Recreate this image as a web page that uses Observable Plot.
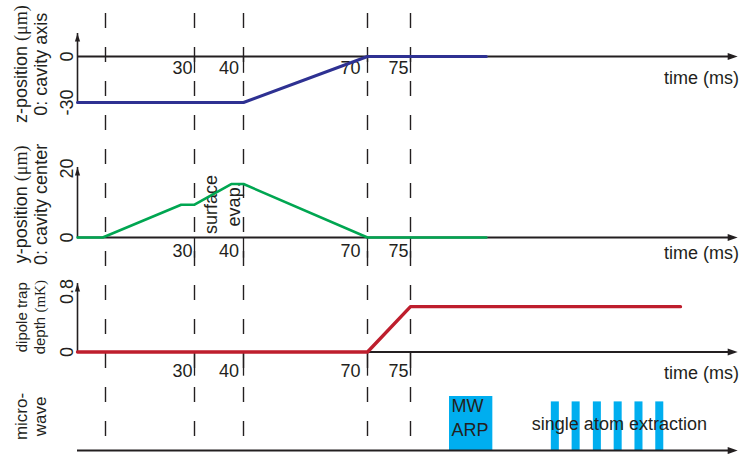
<!DOCTYPE html>
<html>
<head>
<meta charset="utf-8">
<script src="https://cdn.jsdelivr.net/npm/d3@7"></script>
<script src="https://cdn.jsdelivr.net/npm/@observablehq/plot@0.6"></script>
<style>
  html, body { margin: 0; padding: 0; background: #fff; }
  #figure { position: relative; width: 741px; height: 454px; overflow: hidden; }
  #figure svg { position: absolute; left: 0; top: 0; }
</style>
</head>
<body>
<div id="figure"></div>
<script>
// ---- sequence timing (ms) ----
const markerTimes = [10, 30, 40, 70, 75];          // dashed event markers
const tickTimes = [30, 40, 70, 75];                 // labelled ticks
const tickLabels = ["30", "40", "70", "75"];

// schematic (piecewise) time axis: breakpoints in ms and where they sit across the page
const timeBreaks = [0, 10, 30, 40, 70, 75, 150];
const timePixels = [77, 105, 194, 243, 367, 410, 735];
const axisTip = 150.5;

// z-position (µm), 0 = cavity axis
const zTime = [0, 40, 70, 92.5];
const zValue = [-30, -30, 0, 0];

// y-position (µm), 0 = cavity centre
const yTime = [0, 9, 27, 30, 37.5, 40, 70, 92.5];
const yValue = [0, 0, 9.5, 9.5, 15.5, 15.5, 0, 0];

// dipole trap depth (mK)
const trapTime = [0, 70, 75, 137.3];
const trapValue = [0, 0, 0.6, 0.6];

// microwave: MW ARP pulse, then single atom extraction pulses
const arpPulse = {start: 84, end: 94, level: 1};
const extractionStarts = [107.5, 112.3, 117.2, 122.0, 126.8, 131.6];
const extractionWidth = 1.85;
const extractionLevel = 0.9;

// ---- styling ----
const INK = "#231f20";
const BLUE = "#2e3192";
const GREEN = "#00a651";
const RED = "#be1e2d";
const CYAN = "#00aeef";
const FONT = "'Liberation Sans', Arial, Helvetica, sans-serif";
const W = 741, H = 454;

const zip = (xs, ys) => xs.map((t, i) => ({t, v: ys[i]}));

// time is warped piecewise onto the schematic axis before the x scale is applied
const warp = d3.scaleLinear().domain(timeBreaks).range(timePixels);
const xScale = () => ({type: "linear", domain: [0, W], range: [0, W], transform: warp, axis: null});

function render(options) {
  const svg = Plot.plot({
    width: W, height: H,
    marginTop: 0, marginRight: 0, marginBottom: 0, marginLeft: 0,
    x: xScale(),
    style: {background: "transparent", color: INK, fontFamily: FONT, fontSize: "18px", overflow: "visible"},
    ...options
  });
  serifUnits(svg);
  document.getElementById("figure").appendChild(svg);
}

// units in parentheses are set in a serif face
function serifUnits(svg) {
  svg.querySelectorAll("text, tspan").forEach((el) => {
    if (el.children.length) return;
    const m = el.textContent.match(/^(.*?)(\((?:μm|mK)\))$/);
    if (!m) return;
    el.textContent = m[1];
    const unit = document.createElementNS("http://www.w3.org/2000/svg", "tspan");
    unit.setAttribute("font-family", "'Liberation Serif', 'Times New Roman', serif");
    unit.textContent = m[2];
    el.appendChild(unit);
  });
}

// horizontal time axis with filled arrow head
function timeAxis(withLabel, labelDy) {
  const marks = [
    Plot.ruleY([0], {x1: 0, x2: axisTip - 1.6, stroke: INK, strokeWidth: 2}),
    Plot.vector([{t: axisTip, v: 0}], {x: "t", y: "v", shape: "spike", length: 10, r: 3.6, rotate: 90, anchor: "end", fill: INK, stroke: "none"})
  ];
  if (withLabel) {
    marks.push(Plot.text(["time (ms)"], {y: () => 0, frameAnchor: "right", dx: -2.5, dy: labelDy, textAnchor: "end", fill: INK}));
  }
  return marks;
}

// vertical value axis with small arrow head
function valueAxis(low, tip) {
  return [
    Plot.ruleX([0], {y1: low, y2: tip, stroke: INK, strokeWidth: 1.6}),
    Plot.vector([{t: 0, v: tip}], {x: "t", y: "v", shape: "spike", length: 8, r: 2.6, rotate: 0, anchor: "end", fill: INK, stroke: "none"})
  ];
}

// labelled ticks hanging below the time axis
const labelShift = [-2, -4.5, -7, -2];
function timeTicks(down, labelDy) {
  return [
    Plot.ruleX(tickTimes, {x: (d) => d, y1: 0, y2: -down, stroke: INK, strokeWidth: 1.3}),
    ...tickTimes.map((t, i) =>
      Plot.text([t], {x: (d) => d, y: () => 0, text: () => tickLabels[i], textAnchor: "end", dx: labelShift[i], dy: labelDy, fill: INK}))
  ];
}

// rotated value labels left of an axis
function valueLabels(values, labels) {
  return Plot.text(values, {y: (d) => d, text: (d, i) => labels[i], frameAnchor: "left", dx: 67, rotate: -90, textAnchor: "middle", fill: INK});
}

function sideTitle(value, text, size, lineHeight) {
  return Plot.text([value], {y: (d) => d, text: () => text, frameAnchor: "left", dx: 30, rotate: -90, textAnchor: "middle", fontSize: size, lineHeight, fill: INK});
}

// dashed event markers running through all rows
render({
  marginTop: 13, marginBottom: 4,
  marks: [Plot.ruleX(markerTimes, {stroke: INK, strokeWidth: 1.4, strokeDasharray: "15,19"})]
});

// row 1: z-position
render({
  y: {domain: [-30, 0], range: [102, 56], axis: null},
  marks: [
    ...timeAxis(true, 22),
    ...valueAxis(-30.4, 15),
    ...timeTicks(11, 12),
    valueLabels([0, -30], ["0", "-30"]),
    sideTitle(-5, "z-position (μm)\n0: cavity axis", 18, 1.1),
    Plot.line(zip(zTime, zValue), {x: "t", y: "v", stroke: BLUE, strokeWidth: 3})
  ]
});

// row 2: y-position
render({
  y: {domain: [0, 20], range: [237, 168], axis: null},
  marks: [
    ...timeAxis(true, 16),
    ...valueAxis(0, 20.3),
    ...timeTicks(6, 14),
    valueLabels([0, 20], ["0", "20"]),
    sideTitle(9.6, "y-position (μm)\n0: cavity center", 18, 1.1),
    Plot.text([{t: 35.4, v: 9.6}], {x: "t", y: "v", text: () => "surface\nevap.", rotate: -90, lineHeight: 1.27, fill: INK}),
    Plot.line(zip(yTime, yValue), {x: "t", y: "v", stroke: GREEN, strokeWidth: 2.6})
  ]
});

// row 3: dipole trap depth
render({
  y: {domain: [0, 0.8], range: [351.5, 291], axis: null},
  marks: [
    ...timeAxis(true, 21),
    ...valueAxis(0, 0.905),
    ...timeTicks(0.32, 19),
    valueLabels([0, 0.8], ["0", "0.8"]),
    sideTitle(0.46, "dipole trap\ndepth (mK)", 15, 1.15),
    Plot.line(zip(trapTime, trapValue), {x: "t", y: "v", stroke: RED, strokeWidth: 3.4})
  ]
});

// row 4: microwave pulses
render({
  y: {domain: [0, 1], range: [450, 396], axis: null},
  marks: [
    Plot.rect([arpPulse], {x1: "start", x2: "end", y1: 0, y2: "level", fill: CYAN}),
    Plot.rect(extractionStarts, {x1: (d) => d, x2: (d) => d + extractionWidth, y1: 0, y2: extractionLevel, fill: CYAN}),
    ...timeAxis(false),
    sideTitle(0.63, "micro-\nwave", 17, 1.12),
    Plot.text([arpPulse], {x: "start", y: () => 0.63, text: () => "MW\nARP", textAnchor: "start", dx: 2, lineHeight: 1.3, fill: INK}),
    Plot.text([extractionStarts[0]], {x: (d) => d, y: () => 0.48, text: () => "single atom extraction", textAnchor: "start", dx: -19.5, fill: INK})
  ]
});
</script>
</body>
</html>
